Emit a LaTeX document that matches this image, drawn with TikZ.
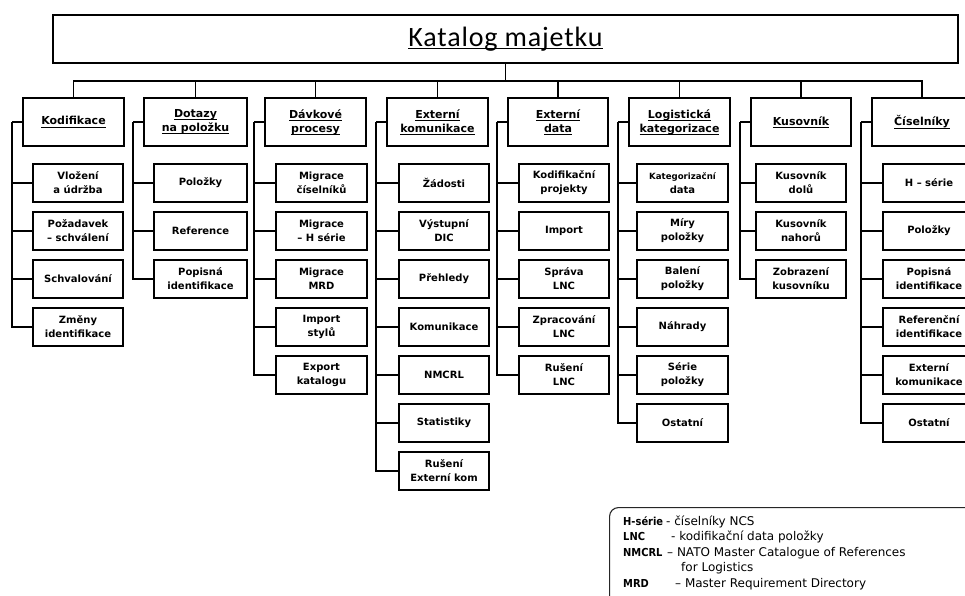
\documentclass[tikz,border=0pt]{standalone}
\usepackage{fontspec}
\setmainfont{DejaVu Sans}
\newfontfamily\condfont{DejaVu Sans Condensed}
\newfontfamily\titlefont[LetterSpace=3]{Carlito}
\usetikzlibrary{calc}

% underline drawn a little below the baseline
\newsavebox\ulinebox
\newcommand\uln[1]{\sbox\ulinebox{#1}\rlap{\rule[-2.4pt]{\wd\ulinebox}{0.8pt}}\usebox\ulinebox}

\tikzset{
  titlebox/.style={draw, line width=2pt, minimum width=905pt, minimum height=48pt,
    inner sep=0pt, font=\titlefont\fontsize{28}{30}\selectfont},
  head/.style={draw, line width=1.8pt, minimum height=48pt, inner sep=0pt,
    align=center, font=\bfseries\fontsize{11}{14}\selectfont},
  leaf/.style={draw, line width=1.8pt, minimum height=38pt, inner sep=0pt,
    align=center, font=\bfseries\fontsize{10}{14}\selectfont},
  wire/.style={line width=1.8pt},
  abbr/.style={anchor=base west, inner sep=0pt, font=\condfont\bfseries\fontsize{11}{12}\selectfont},
  expl/.style={anchor=base west, inner sep=0pt, font=\fontsize{12}{13}\selectfont},
}

\begin{document}
\begin{tikzpicture}[x=1pt, y=-1pt]
\useasboundingbox (0,0) rectangle (965,595);
\clip (0,0) rectangle (965,595);

% root
\node[titlebox] (root) at (505.5,39) {\uln{Katalog majetku}};
\coordinate (bus) at (505.5,81);

% first level
\node[head, minimum width=101pt] (p1) at (73.5,122)  {\uln{Kodifikace}};
\node[head, minimum width=103pt] (p2) at (195.5,122) {\uln{Dotazy}\\\uln{na položku}};
\node[head, minimum width=101pt] (p3) at (315.5,122) {\uln{Dávkové}\\\uln{procesy}};
\node[head, minimum width=101pt] (p4) at (437.5,122) {\uln{Externí}\\\uln{komunikace}};
\node[head, minimum width=100pt] (p5) at (558,122)   {\uln{Externí}\\\uln{data}};
\node[head, minimum width=101pt] (p6) at (679.5,122) {\uln{Logistická}\\\uln{kategorizace}};
\node[head, minimum width=100pt] (p7) at (801,122)   {\uln{Kusovník}};
\node[head, minimum width=100pt] (p8) at (922,122)   {\uln{Číselníky}};

\draw[wire] (root.south) -- (bus);
\foreach \i in {1,...,8} {
  \draw[wire] (p\i.north) |- (bus);
  \coordinate (t\i) at ($(p\i.west)+(-10.5,0)$);
  \draw[wire] (p\i.west) -- (t\i);
}

% Kodifikace
\node[leaf, minimum width=90pt] (a1) at (78,183) {Vložení\\a údržba};
\node[leaf, minimum width=90pt] (a2) at (78,231) {Požadavek\\– schválení};
\node[leaf, minimum width=90pt] (a3) at (78,279) {Schvalování};
\node[leaf, minimum width=90pt] (a4) at (78,327) {Změny\\identifikace};
\foreach \k in {1,...,4} \draw[wire] (t1) |- (a\k.west);

% Dotazy na polozku
\node[leaf, minimum width=93pt] (b1) at (200.5,183) {Položky};
\node[leaf, minimum width=93pt] (b2) at (200.5,231) {Reference};
\node[leaf, minimum width=93pt] (b3) at (200.5,279) {Popisná\\identifikace};
\foreach \k in {1,...,3} \draw[wire] (t2) |- (b\k.west);

% Davkove procesy
\node[leaf, minimum width=91pt] (c1) at (321.5,183) {Migrace\\číselníků};
\node[leaf, minimum width=91pt] (c2) at (321.5,231) {Migrace\\– H série};
\node[leaf, minimum width=91pt] (c3) at (321.5,279) {Migrace\\MRD};
\node[leaf, minimum width=91pt] (c4) at (321.5,327) {Import\\stylů};
\node[leaf, minimum width=91pt] (c5) at (321.5,375) {Export\\katalogu};
\foreach \k in {1,...,5} \draw[wire] (t3) |- (c\k.west);

% Externi komunikace
\node[leaf, minimum width=90pt] (d1) at (444,183) {Žádosti};
\node[leaf, minimum width=90pt] (d2) at (444,231) {Výstupní\\DIC};
\node[leaf, minimum width=90pt] (d3) at (444,279) {Přehledy};
\node[leaf, minimum width=90pt] (d4) at (444,327) {Komunikace};
\node[leaf, minimum width=90pt] (d5) at (444,375) {NMCRL};
\node[leaf, minimum width=90pt] (d6) at (444,423) {Statistiky};
\node[leaf, minimum width=90pt] (d7) at (444,471) {Rušení\\Externí kom};
\foreach \k in {1,...,7} \draw[wire] (t4) |- (d\k.west);

% Externi data
\node[leaf, minimum width=90pt] (e1) at (564,183) {Kodifikační\\projekty};
\node[leaf, minimum width=90pt] (e2) at (564,231) {Import};
\node[leaf, minimum width=90pt] (e3) at (564,279) {Správa\\LNC};
\node[leaf, minimum width=90pt] (e4) at (564,327) {Zpracování\\LNC};
\node[leaf, minimum width=90pt] (e5) at (564,375) {Rušení\\LNC};
\foreach \k in {1,...,5} \draw[wire] (t5) |- (e\k.west);

% Logisticka kategorizace
\node[leaf, minimum width=91pt] (f1) at (682.5,183) {{\fontsize{8.6}{14}\selectfont Kategorizační}\\data};
\node[leaf, minimum width=91pt] (f2) at (682.5,231) {Míry\\položky};
\node[leaf, minimum width=91pt] (f3) at (682.5,279) {Balení\\položky};
\node[leaf, minimum width=91pt] (f4) at (682.5,327) {Náhrady};
\node[leaf, minimum width=91pt] (f5) at (682.5,375) {Série\\položky};
\node[leaf, minimum width=91pt] (f6) at (682.5,423) {Ostatní};
\foreach \k in {1,...,6} \draw[wire] (t6) |- (f\k.west);

% Kusovnik
\node[leaf, minimum width=90pt] (g1) at (801,183) {Kusovník\\dolů};
\node[leaf, minimum width=90pt] (g2) at (801,231) {Kusovník\\nahorů};
\node[leaf, minimum width=90pt] (g3) at (801,279) {Zobrazení\\kusovníku};
\foreach \k in {1,...,3} \draw[wire] (t7) |- (g\k.west);

% Ciselniky
\node[leaf, minimum width=92pt] (h1) at (929,183) {H – série};
\node[leaf, minimum width=92pt] (h2) at (929,231) {Položky};
\node[leaf, minimum width=92pt] (h3) at (929,279) {Popisná\\identifikace};
\node[leaf, minimum width=92pt] (h4) at (929,327) {Referenční\\identifikace};
\node[leaf, minimum width=92pt] (h5) at (929,375) {Externí\\komunikace};
\node[leaf, minimum width=92pt] (h6) at (929,423) {Ostatní};
\foreach \k in {1,...,6} \draw[wire] (t8) |- (h\k.west);

% abbreviations
\node[draw=black!85, line width=1.1pt, rounded corners=9pt, anchor=north west,
      minimum width=380pt, minimum height=110pt] (legend) at (609,507) {};
\node[abbr] (k1) at (623,525) {H-série};
\node[expl] (v1) at (666,525) {- číselníky NCS};
\node[abbr] (k2) at (623,540.5) {LNC};
\node[expl] (v2) at (671,540.5) {- kodifikační data položky};
\node[abbr] (k3) at (623,556) {NMCRL};
\node[expl] (v3) at (667,556) {– NATO Master Catalogue of References};
\node[expl] (v4) at (681,571.5) {for Logistics};
\node[abbr] (k5) at (623,587) {MRD};
\node[expl] (v5) at (675,587) {– Master Requirement Directory};
\end{tikzpicture}
\end{document}
